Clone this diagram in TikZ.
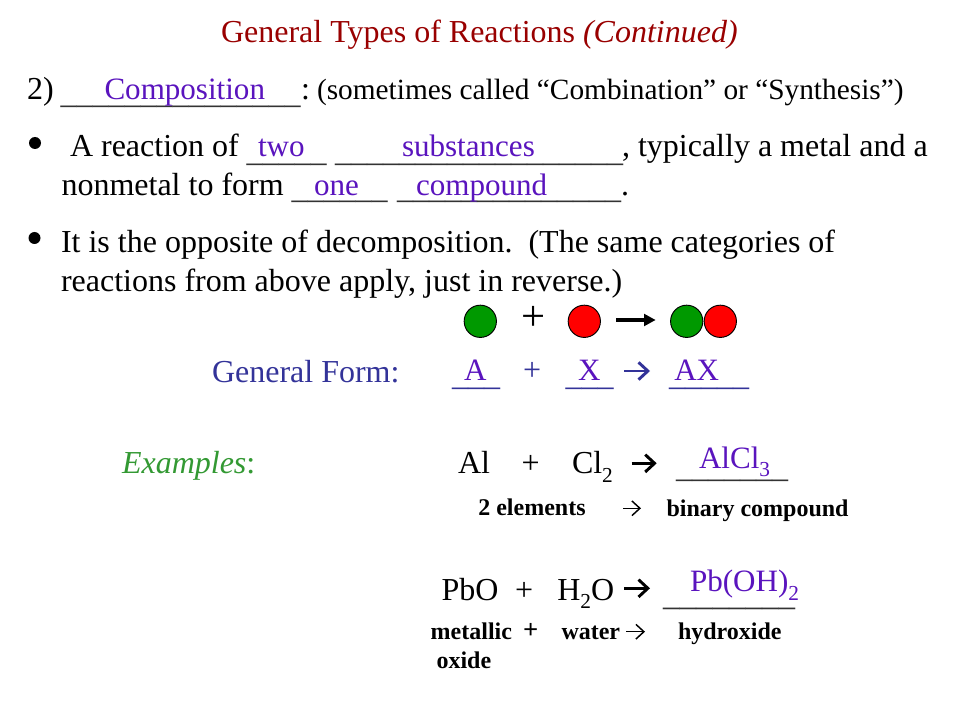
\documentclass[tikz,border=0pt]{standalone}
\usepackage{fontspec}
\setmainfont{Liberation Serif}
\usetikzlibrary{arrows.meta}
\definecolor{purp}{HTML}{5A14BE}
\definecolor{navy}{HTML}{333399}
\definecolor{darkred}{HTML}{990000}
\definecolor{grn}{HTML}{339933}
\definecolor{ballg}{HTML}{009900}
\definecolor{ballr}{HTML}{FF0000}
\definecolor{rule}{HTML}{333333}
\newcommand{\fs}[1]{\fontsize{#1}{#1}\selectfont}
\newcommand{\sbs}[1]{\raisebox{-0.28em}{\fs{16}#1}}
\newcommand{\us}[1]{\foreach \n in {1,...,#1}{\_}}
\tikzset{
  x=0.75pt,y=-0.75pt,
  txt/.style={anchor=base west,inner sep=0pt,outer sep=0pt,font=\fs{24}},
  small/.style={txt,font=\fs{22}},
  lbl/.style={txt,font=\fs{18}\bfseries},
  fill in/.style={txt,text=purp,font=\fs{23.3}},
  blank/.style={txt,text=rule},
  ball/.style={circle,draw=black,line width=0.7pt,minimum size=24.2pt,inner sep=0pt},
  boldarrow/.style={line width=2.2pt,-{Straight Barb[length=7pt,width=13pt,line width=2.2pt]}},
  thinarrow/.style={line width=1.1pt,-{Straight Barb[length=6pt,width=11pt,line width=1.1pt]}},
  solidarrow/.style={line width=3pt,-{Triangle[length=8.75pt,width=8.75pt]}},
  dot/.style={circle,fill=black,minimum size=9pt,inner sep=0pt}
}
\begin{document}
\begin{tikzpicture}
\useasboundingbox (0,0) rectangle (960,720);
\fill[white] (0,0) rectangle (960,720);
\node[txt,text=darkred] (title) at (221,43) {General Types of Reactions \textit{(Continued)}};
% line: 2)
\node[txt] (num) at (27,100) {2)};
\node[blank] (u0) at (60.5,103.2) {\us{15}};
\node[txt] (colon) at (301,100) {:};
\node[small] (sometimes) at (317,100) {(sometimes called “Combination” or “Synthesis”)};
\node[fill in] (comp) at (104.5,100) {Composition};
% bullet 1
\node[dot] (b1) at (35,143) {};
\node[txt] (l1a) at (70,157) {A reaction of};
\node[blank] (u1) at (246.5,161.2) {\us{5}};
\node[blank] (u2) at (335,161.2) {\us{18}};
\node[txt] (l1b) at (622,157) {, typically a metal and a};
\node[fill in] (two) at (258,157) {two};
\node[fill in] (subs) at (402,157) {substances};
\node[txt] (l2a) at (61.5,196) {nonmetal to form};
\node[blank] (u3) at (291.5,198.9) {\us{6}};
\node[blank] (u4) at (397,198.9) {\us{14}};
\node[txt] (l2b) at (621,196) {.};
\node[fill in] (one) at (314,196) {one};
\node[fill in] (compound) at (416,196) {compound};
% bullet 2
\node[dot] (b2) at (34.5,238) {};
\node[txt] (l3) at (61,253) {It is the opposite of decomposition.\ \ (The same categories of};
\node[txt] (l4) at (61,291.5) {reactions from above apply, just in reverse.)};
% balls
\node[ball,fill=ballg] (g1) at (480.3,321.3) {};
\node[txt,font=\fs{32}] (plus0) at (521,330) {+};
\node[ball,fill=ballr] (r1) at (584.3,321.3) {};
\coordinate (ar0) at (616,320);
\coordinate (ar1) at (655.7,320);
\draw[solidarrow] (ar0) -- (ar1);
\node[ball,fill=ballg] (g2) at (686.7,321.3) {};
\node[ball,fill=ballr] (r2) at (720.3,321.3) {};
% general form
\node[txt,text=navy] (gf) at (212,382.5) {General Form:};
\node[txt,text=navy] (gfa) at (452,385.9) {\us{3}};
\node[fill in] (A) at (464,380) {A};
\node[txt,text=navy] (gfp) at (523,380) {+};
\node[txt,text=navy] (gfx) at (565.5,385.9) {\us{3}};
\node[fill in] (X) at (578,380) {X};
\coordinate (a1s) at (624.3,371);
\coordinate (a1e) at (650,371);
\draw[boldarrow,navy] (a1s) -- (a1e);
\node[txt,text=navy] (gfax) at (669,385.9) {\us{5}};
\node[fill in] (AX) at (674.3,380) {AX};
% examples
\node[txt,text=grn] (ex) at (122,473.5) {\textit{Examples}:};
\node[txt] (al) at (458,473.5) {Al};
\node[txt] (p1) at (521.5,473.5) {+};
\node[txt] (cl) at (572,473.5) {Cl\sbs{2}};
\coordinate (a2s) at (631.7,463.3);
\coordinate (a2e) at (656.7,463.3);
\draw[boldarrow] (a2s) -- (a2e);
\node[blank] (u5) at (676,477.2) {\us{7}};
\node[fill in] (alcl) at (699,468) {AlCl\sbs{3}};
\node[lbl] (el) at (478.3,515) {2 elements};
\coordinate (a3s) at (623,508.3);
\coordinate (a3e) at (641,508.3);
\draw[thinarrow] (a3s) -- (a3e);
\node[lbl] (bin) at (666.5,516) {binary compound};
\node[txt] (pbo) at (441.7,600) {PbO};
\node[txt] (p2) at (515,600) {+};
\node[txt] (h2o) at (557.3,600) {H\sbs{2}O};
\coordinate (a4s) at (624,588.3);
\coordinate (a4e) at (650,588.3);
\draw[boldarrow] (a4s) -- (a4e);
\node[blank,font=\fs{24.75}] (u6) at (663,605.5) {\us{8}};
\node[fill in] (pboh) at (690,591.5) {Pb(OH)\sbs{2}};
\node[lbl] (met) at (430.7,639.5) {metallic};
\node[lbl,font=\fs{20}\bfseries] (p3) at (523,638) {+};
\node[lbl] (wat) at (561.5,639.5) {water};
\coordinate (a5s) at (626,631.7);
\coordinate (a5e) at (645,631.7);
\draw[thinarrow] (a5s) -- (a5e);
\node[lbl] (hyd) at (678,639.5) {hydroxide};
\node[lbl] (ox) at (436.5,668) {oxide};
\end{tikzpicture}
\end{document}
